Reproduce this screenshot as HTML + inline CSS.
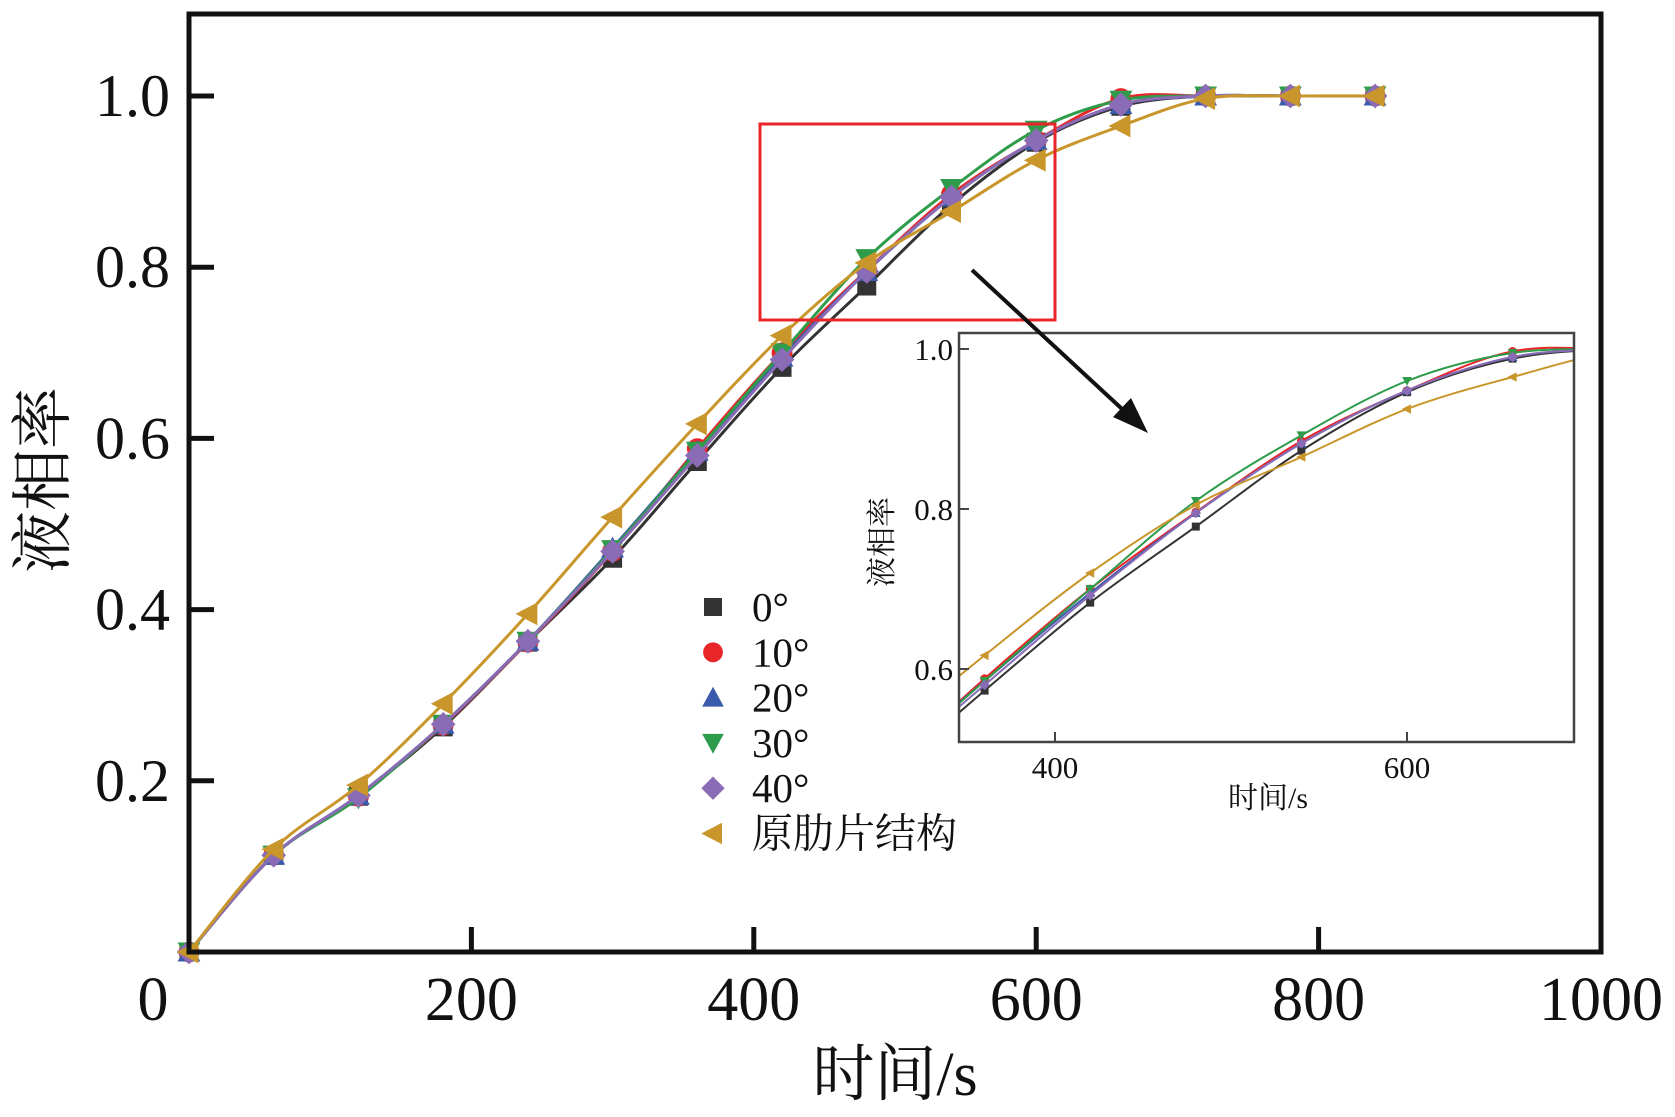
<!DOCTYPE html>
<html><head><meta charset="utf-8"><style>
html,body{margin:0;padding:0;background:#fff}
svg text{font-family:"Liberation Serif","Noto Serif CJK SC",serif;fill:#111}
</style></head><body>
<svg id="chart" width="1675" height="1112" viewBox="0 0 1675 1112" xmlns="http://www.w3.org/2000/svg">
<defs><clipPath id="insetClip"><rect x="959" y="333" width="615" height="409"/></clipPath></defs>
<g id="main"></g>
<g id="inset"></g>
<g id="overlay"></g>
</svg>
<script>
const times=[0,60,120,180,240,300,360,420,480,540,600,660,720,780,840];
const s0=[0,0.113,0.182,0.263,0.362,0.46,0.573,0.683,0.778,0.873,0.946,0.988,1,1,1];
const s10=[0,0.113,0.182,0.265,0.362,0.468,0.588,0.7,0.796,0.885,0.948,0.997,1,1,1];
const s20=[0,0.113,0.183,0.266,0.363,0.472,0.585,0.695,0.795,0.882,0.948,0.99,1,1,1];
const s30=[0,0.113,0.18,0.266,0.363,0.47,0.585,0.7,0.81,0.892,0.96,0.995,1,1,1];
const s40=[0,0.113,0.183,0.266,0.363,0.468,0.58,0.692,0.795,0.882,0.948,0.99,1,1,1];
const sOrig=[0,0.12,0.195,0.29,0.395,0.508,0.617,0.72,0.805,0.865,0.925,0.965,0.997,1,1];
const seriesNames=["0°","10°","20°","30°","40°","原肋片结构"];
const xTicks=[0,200,400,600,800,1000];
const yTicks=[0.2,0.4,0.6,0.8,1.0];
const insetXTicks=[400,600];
const insetYTicks=[0.6,0.8,1.0];

const NS="http://www.w3.org/2000/svg";
const allSeries=[s0,s10,s20,s30,s40,sOrig];
const colors=["#333333","#e8262a","#3a5bab","#2e9c4a","#8a6bb5","#c8962a"];
const shapes=["square","circle","up","down","diamond","left"];
function mk(parent,tag,attrs,text){const e=document.createElementNS(NS,tag);for(const k in attrs)e.setAttribute(k,attrs[k]);if(text!==undefined)e.textContent=text;parent.appendChild(e);return e;}
const X=v=>189+v*1.412;
const Y=v=>952-v*856;
const IX=v=>1055+(v-400)*1.76;
const IY=v=>349+(1-v)*800;
function spline(pts){let d=`M${pts[0][0]},${pts[0][1]}`;for(let i=0;i<pts.length-1;i++){const p0=pts[Math.max(0,i-1)],p1=pts[i],p2=pts[i+1],p3=pts[Math.min(pts.length-1,i+2)];const c1x=p1[0]+(p2[0]-p0[0])/6,c1y=p1[1]+(p2[1]-p0[1])/6,c2x=p2[0]-(p3[0]-p1[0])/6,c2y=p2[1]-(p3[1]-p1[1])/6;d+=` C${c1x},${c1y} ${c2x},${c2y} ${p2[0]},${p2[1]}`;}return d;}
function marker(g,shape,x,y,r,c){let e;
if(shape==="square")e=mk(g,"rect",{x:x-r,y:y-r,width:2*r,height:2*r,fill:c});
else if(shape==="circle")e=mk(g,"circle",{cx:x,cy:y,r:r*1.1,fill:c});
else if(shape==="up")e=mk(g,"polygon",{points:`${x},${y-r*1.2} ${x+r*1.2},${y+r} ${x-r*1.2},${y+r}`,fill:c});
else if(shape==="down")e=mk(g,"polygon",{points:`${x},${y+r*1.2} ${x+r*1.2},${y-r} ${x-r*1.2},${y-r}`,fill:c});
else if(shape==="diamond")e=mk(g,"polygon",{points:`${x},${y-r*1.3} ${x+r*1.3},${y} ${x},${y+r*1.3} ${x-r*1.3},${y}`,fill:c});
else e=mk(g,"polygon",{points:`${x-r*1.3},${y} ${x+r},${y-r*1.2} ${x+r},${y+r*1.2}`,fill:c});
return e;}

const main=document.getElementById("main");
allSeries.forEach((s,i)=>{
 const g=mk(main,"g",{});
 
 
 const pts=times.map((t,j)=>[X(t),Y(s[j])]);
 const p=mk(g,"path",{d:spline(pts),fill:"none",stroke:colors[i],"stroke-width":3});
 
 
 times.forEach((t,j)=>{const m=marker(g,shapes[i],X(t),Y(s[j]),9.5,colors[i]);
  
  });
});
const fr=mk(main,"rect",{x:189,y:14,width:1412,height:938,fill:"none",stroke:"#111","stroke-width":5});


xTicks.forEach(t=>{
 if(t>0&&t<1000){const l=mk(main,"line",{x1:X(t),x2:X(t),y1:952,y2:927,stroke:"#111","stroke-width":5});
 
 }
 const tx=mk(main,"text",{x:t===0?153:X(t),y:1020,"font-size":62,"text-anchor":"middle"},String(t));
 
 
});
yTicks.forEach(t=>{
 const l=mk(main,"line",{x1:189,x2:214,y1:Y(t),y2:Y(t),stroke:"#111","stroke-width":5});
 
 
 const tx=mk(main,"text",{x:170,y:Y(t)+20,"font-size":60,"text-anchor":"end"},t.toFixed(1));
 
 
});
const xt=mk(main,"text",{x:895,y:1095,"font-size":62,"text-anchor":"middle"},"时间/s");


const yt=mk(main,"text",{x:0,y:0,"font-size":62,"text-anchor":"middle",transform:"translate(64,480) rotate(-90)"},"液相率");


seriesNames.forEach((n,i)=>{
 const g=mk(main,"g",{});
 
 
 marker(g,shapes[i],713,607+i*45.3,9,colors[i]);
 mk(g,"text",{x:752,y:621+i*45.3,"font-size":41},n);
});
const rb=mk(main,"rect",{x:760,y:124,width:295,height:196,fill:"none",stroke:"#e8262a","stroke-width":3});



// inset
const ins=document.getElementById("inset");


mk(ins,"rect",{x:959,y:333,width:615,height:409,fill:"#fff"});
const cg=mk(ins,"g",{"clip-path":"url(#insetClip)"});
allSeries.forEach((s,i)=>{
 const g=mk(cg,"g",{});
 
 
 const pts=times.map((t,j)=>[IX(t),IY(s[j])]);
 mk(g,"path",{d:spline(pts),fill:"none",stroke:colors[i],"stroke-width":2});
 times.forEach((t,j)=>{const m=marker(g,shapes[i],IX(t),IY(s[j]),4,colors[i]);
  
  });
});
const ifr=mk(ins,"rect",{x:959,y:333,width:615,height:409,fill:"none",stroke:"#444","stroke-width":2.5});


insetXTicks.forEach(t=>{
 mk(ins,"line",{x1:IX(t),x2:IX(t),y1:742,y2:732,stroke:"#444","stroke-width":2});
 const tx=mk(ins,"text",{x:IX(t),y:778,"font-size":31,"text-anchor":"middle"},String(t));
 
 
});
insetYTicks.forEach(t=>{
 mk(ins,"line",{x1:959,x2:969,y1:IY(t),y2:IY(t),stroke:"#444","stroke-width":2});
 const tx=mk(ins,"text",{x:953,y:IY(t)+11,"font-size":31,"text-anchor":"end"},t.toFixed(1));
 
 
});
const ixt=mk(ins,"text",{x:1268,y:808,"font-size":30,"text-anchor":"middle"},"时间/s");


const iyt=mk(ins,"text",{x:0,y:0,"font-size":30,"text-anchor":"middle",transform:"translate(892,542) rotate(-90)"},"液相率");



// arrow on top
const ov=document.getElementById("overlay");
const ar=mk(ov,"g",{});


mk(ar,"line",{x1:972,y1:270,x2:1135,y2:421,stroke:"#111","stroke-width":4});
mk(ar,"polygon",{points:"1148,433 1113,417 1131,398",fill:"#111"});
</script>
</body></html>
